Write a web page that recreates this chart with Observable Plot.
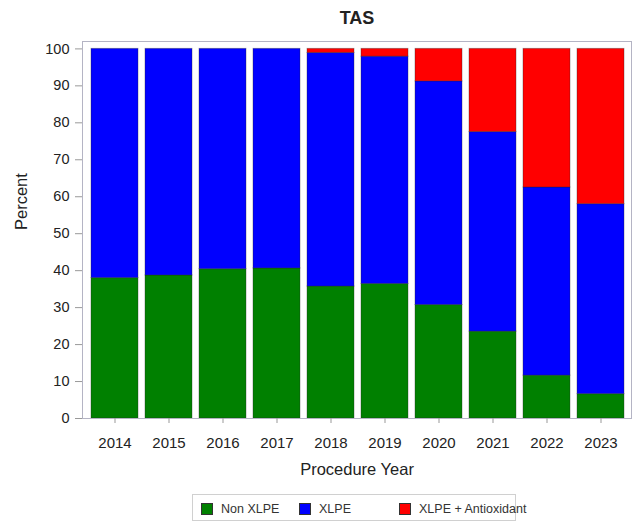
<!DOCTYPE html>
<html><head><meta charset="utf-8">
<script src="https://cdn.jsdelivr.net/npm/d3@7"></script>
<script src="https://cdn.jsdelivr.net/npm/@observablehq/plot@0.6"></script>
<style>
body{margin:0;background:#fff;font-family:"Liberation Sans",Arial,sans-serif;}
#wrap{position:relative;width:637px;height:522px;}
#legend{position:absolute;left:192px;top:494px;width:324px;height:27px;border:1px solid #d0d0d0;box-sizing:border-box;}
.item{position:absolute;top:0;height:27px;display:flex;align-items:center;font-size:12.5px;color:#333;white-space:nowrap;}
.sw{width:10px;height:10px;border:1px solid #333;margin-right:8px;}
</style></head><body><div id="wrap"><div id="chart"></div><div id="legend"></div></div>
<script>
const years = ["2014","2015","2016","2017","2018","2019","2020","2021","2022","2023"];
const nonXLPE    = [38.0, 38.7, 40.4, 40.6, 35.7, 36.4, 30.7, 23.5, 11.6, 6.6];
const xlpe       = [62.0, 61.3, 59.6, 59.4, 63.2, 61.5, 60.5, 54.0, 50.9, 51.4];
const xlpeAntiox = [0, 0, 0, 0, 1.1, 2.1, 8.8, 22.5, 37.5, 42.0];
const series = ["Non XLPE", "XLPE", "XLPE + Antioxidant"];
const colors = ["#008000", "#0000ff", "#ff0000"];
const yTicks = [0,10,20,30,40,50,60,70,80,90,100];

const seriesValues = [nonXLPE, xlpe, xlpeAntiox];
const data = [];
series.forEach((s, i) => years.forEach((y, j) => data.push({year: y, series: s, value: seriesValues[i][j]})));

const font = '"Liberation Sans", Arial, sans-serif';
const chart = Plot.plot({
  width: 637, height: 490,
  marginLeft: 82, marginRight: 6, marginTop: 41, marginBottom: 72,
  style: {fontFamily: font, background: "white", color: "#222"},
  x: {domain: years, range: [84.3, 631.3], padding: 0.122, label: null, axis: null},
  y: {domain: [0, 102], label: null, axis: null},
  color: {domain: series, range: colors},
  marks: [
    Plot.barY(data, {x: "year", y: "value", fill: "series", stroke: "#222", strokeOpacity: 0.35, strokeWidth: 1}),
    Plot.frame({stroke: "#b4b4c4"}),
    Plot.axisY({ticks: yTicks, tickSize: 7, tickPadding: 6, fontSize: 14.5, stroke: "#999", fill: "#222", label: null}),
    Plot.axisX({tickSize: 5, tickPadding: 14, fontSize: 15, stroke: "#999", fill: "#222", label: null}),
    Plot.text(["TAS"], {frameAnchor: "top", dy: -23.5, fontSize: 18, fontWeight: "bold", lineAnchor: "middle", fill: "#222"}),
    Plot.text(["Procedure Year"], {frameAnchor: "bottom", dy: 51.3, fontSize: 16.5, lineAnchor: "middle", fill: "#222"}),
    Plot.text(["Percent"], {frameAnchor: "left", dx: -61, rotate: -90, fontSize: 16.5, lineAnchor: "middle", fill: "#222"})
  ]
});
document.getElementById("chart").appendChild(chart);

const legend = document.getElementById("legend");
const itemLefts = [8, 106, 206];
series.forEach((s, i) => {
  const it = document.createElement("div");
  it.className = "item";
  it.style.left = itemLefts[i] + "px";
  const sw = document.createElement("span");
  sw.className = "sw";
  sw.style.background = colors[i];
  it.appendChild(sw);
  it.appendChild(document.createTextNode(s));
  legend.appendChild(it);
});
</script></body></html>
